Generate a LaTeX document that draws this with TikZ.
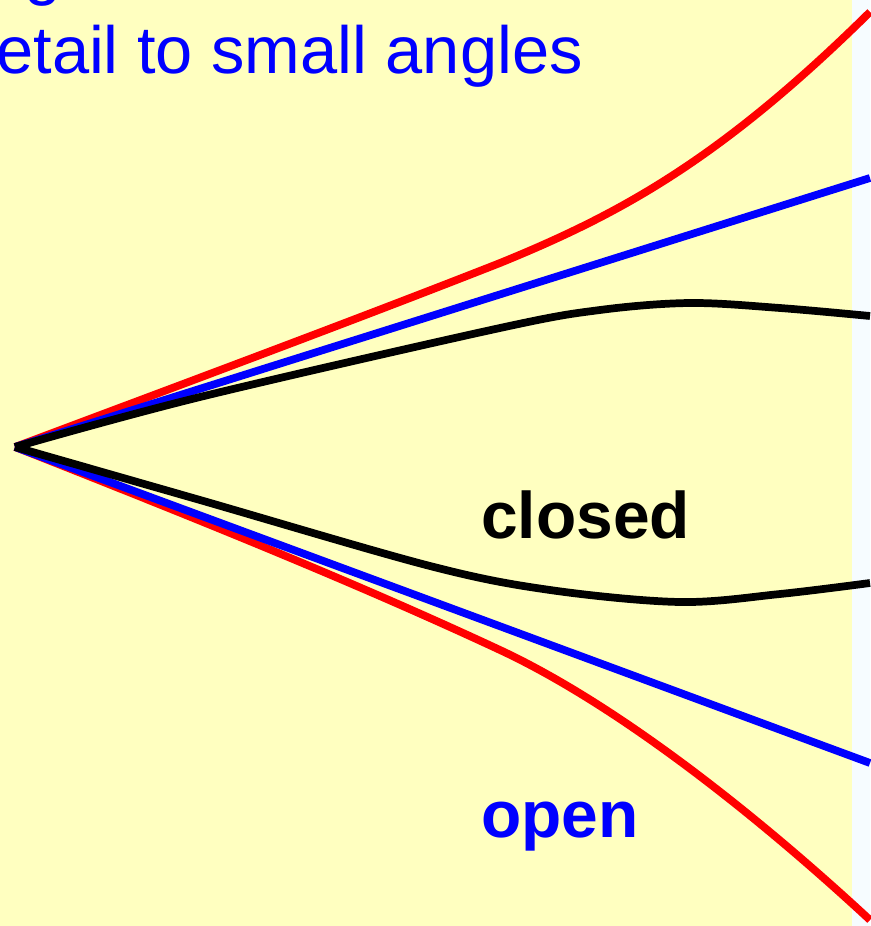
\documentclass[tikz,border=0pt]{standalone}
\usepackage{fontspec}
\setmainfont{Liberation Sans}
\definecolor{paleyellow}{RGB}{255,255,192}
\definecolor{stripwhite}{RGB}{246,252,255}
\tikzset{
  curve/.style={line width=4.4pt},
  caption/.style={inner sep=0pt, anchor=base west, font=\fontsize{38}{46}\selectfont},
  tag/.style={inner sep=0pt, anchor=base west, font=\fontsize{37.5}{45}\selectfont\bfseries}
}

\begin{document}
\begin{tikzpicture}[x=0.02cm,y=-0.02cm]
  \useasboundingbox (0,0) rectangle (870,926);
  \fill[paleyellow] (0,0) rectangle (852,926);
  \fill[stripwhite] (852,0) rectangle (870,926);
  % caption cut off by the frame
  \node[caption, text=blue] (prevline) at (24,-7) {g};
  \node[caption, text=blue] (caption) at (-4,74) {etail to small angles};
  \coordinate (apex) at (15,447);
  \coordinate (blueup) at (870,178);
  \coordinate (bluedown) at (870,763);
  % open: red
  \draw[curve, red] (apex) .. controls (180,385) and (350,322) .. (500,263)
    .. controls (620,214) and (720,160) .. (870,12);
  \draw[curve, red] (apex) .. controls (180,512) and (350,580) .. (500,650)
    .. controls (620,706) and (760,818) .. (870,920);
  % flat: blue
  \draw[curve, blue] (apex) -- (blueup);
  \draw[curve, blue] (apex) -- (bluedown);
  % closed: black
  \draw[curve, black] plot[smooth, tension=0.55] coordinates
    {(apex) (200,397) (500,328) (600,310) (690,303) (780,308) (870,316)};
  \draw[curve, black] plot[smooth, tension=0.55] coordinates
    {(apex) (200,500) (430,566) (550,590) (680,602) (780,594) (870,583)};
  \node[tag, text=black] (closed) at (481,538) {closed};
  \node[tag, text=blue] (open) at (481,837) {open};
\end{tikzpicture}
\end{document}
